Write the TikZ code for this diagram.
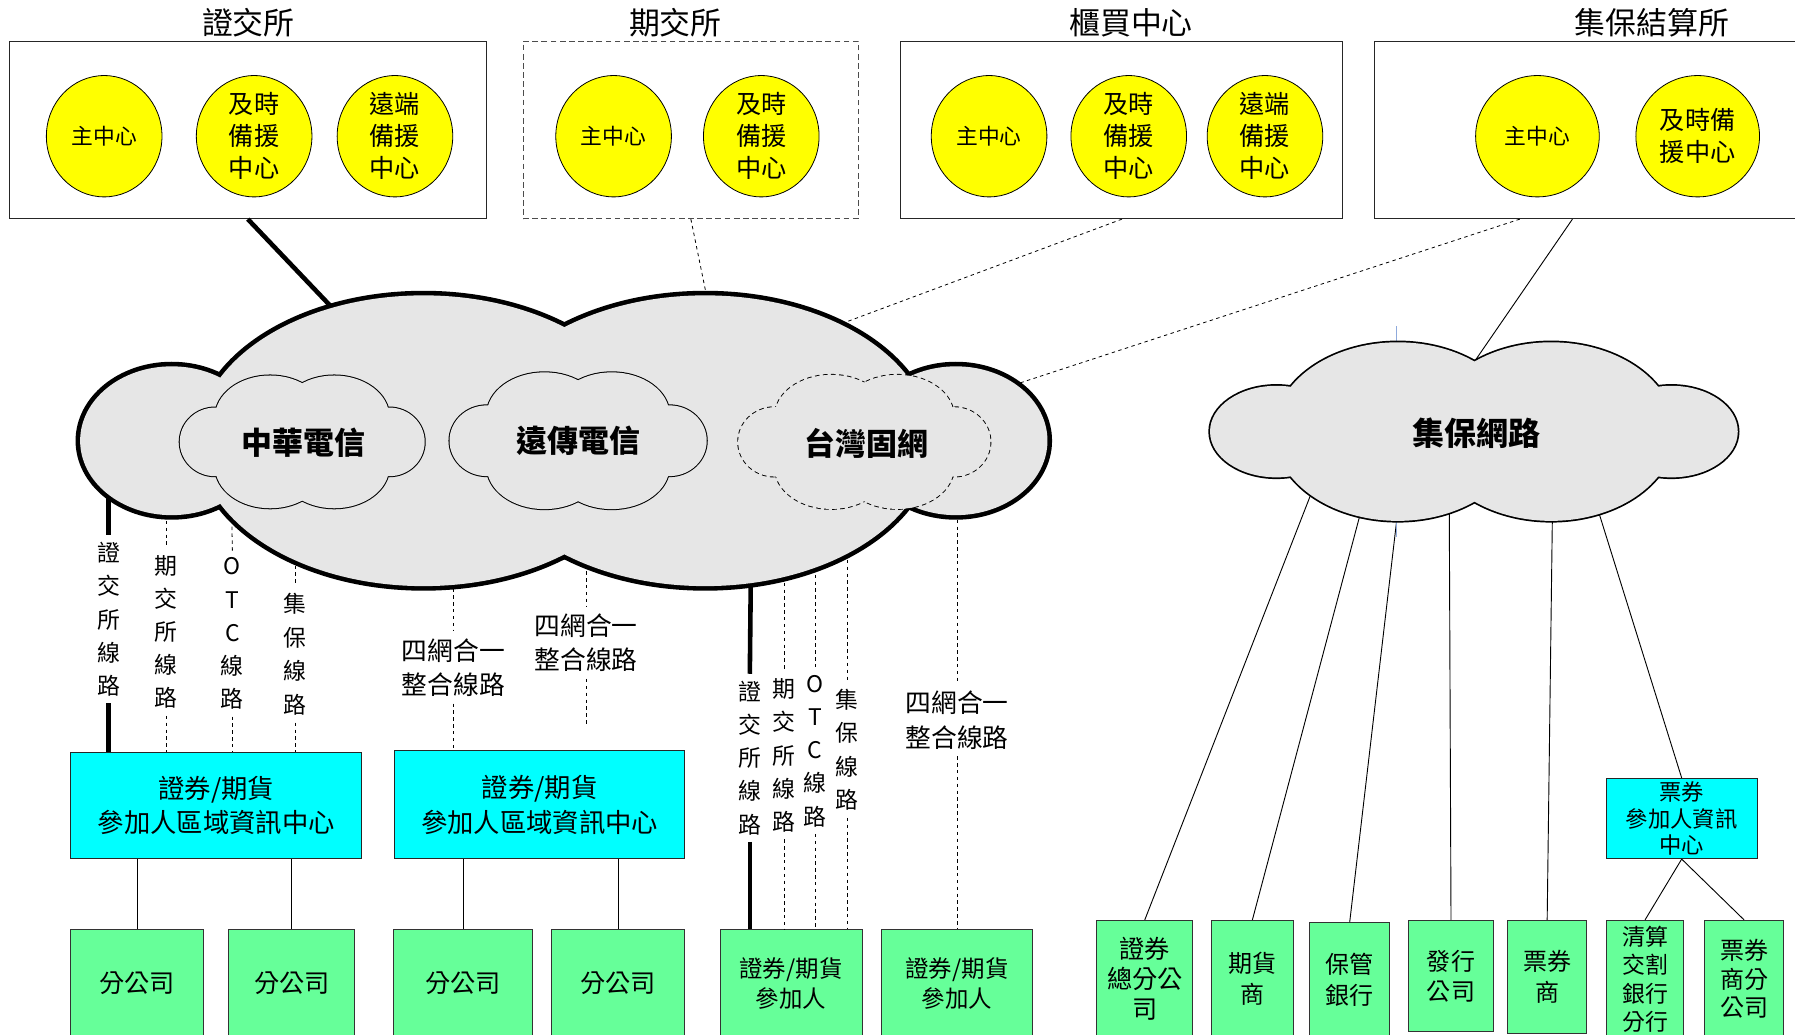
\documentclass[tikz,border=0pt]{standalone}
\usepackage{fontspec}
\setmainfont{Noto Sans CJK TC}
\usetikzlibrary{shapes.geometric,calc}
\definecolor{cgray}{HTML}{E6E6E6}
\definecolor{ccyan}{HTML}{00FFFF}
\definecolor{cgreen}{HTML}{66FF99}
\definecolor{cyel}{HTML}{FFFF00}
\definecolor{cblue}{HTML}{8FAADC}
\newcommand{\minicloud}[2]{%
  \begin{scope}[#1]
    \foreach \cx/\cy/\rx/\ry in {-76/0/31/30,76/0/31/30,-28/-22/48/36,28/-22/48/36,-28/22/48/36,28/22/48/36}
      {\draw[#2,fill=cgray] (\cx,\cy) ellipse [x radius=\rx, y radius=\ry];}
    \foreach \cx/\cy/\rx/\ry in {-76/0/31/30,76/0/31/30,-28/-22/48/36,28/-22/48/36,-28/22/48/36,28/22/48/36}
      {\fill[cgray] (\cx,\cy) ellipse [x radius=\rx, y radius=\ry];}
    \fill[cgray] (-70,-15) rectangle (70,15);
  \end{scope}}
\begin{document}
\begin{tikzpicture}[x=1pt,y=-1pt,
  ttl/.style={font=\fontsize{27}{30}\selectfont, inner sep=0pt},
  topbox/.style={draw=black!85, line width=0.9pt, minimum height=155pt, inner sep=0pt},
  yel/.style={ellipse, draw=black, fill=cyel, line width=0.7pt, minimum width=101pt, minimum height=106pt, align=center},
  ysmall/.style={font=\fontsize{19}{22}\selectfont, inner sep=0pt},
  ybig/.style={font=\fontsize{22}{28}\selectfont, inner sep=-9pt},
  cloudlab/.style={font=\bfseries\fontsize{27}{30}\selectfont, inner sep=0pt},
  cyanbox/.style={draw=black!85, fill=ccyan, line width=0.9pt, align=center, inner sep=0pt},
  greenbox/.style={draw=black!80, fill=cgreen, line width=0.9pt, align=center, inner sep=0pt},
  vlab/.style={align=center, inner sep=6pt, font=\fontsize{20}{29}\selectfont},
  flab/.style={align=center, inner sep=6pt, font=\fontsize{22.5}{30}\selectfont},
  dline/.style={dash pattern=on 3pt off 3pt, line width=0.7pt},
  thickline/.style={line width=4pt},
  conn/.style={line width=0.8pt}
]
\useasboundingbox (0,0) rectangle (1568,904);
\fill[white] (0,0) rectangle (1568,904);
\clip (0,0) rectangle (1568,904);

% ---------- top titles and boxes ----------
\node[ttl] (t1) at (217,20) {證交所};
\node[ttl] (t2) at (590,20) {期交所};
\node[ttl] (t3) at (988,20) {櫃買中心};
\node[ttl] (t4) at (1443,20) {集保結算所};

\node[topbox, minimum width=417pt] (tse) at (216.5,113.5) {};
\node[topbox, draw=black!70, dash pattern=on 5pt off 3pt, minimum width=293pt] (tfe) at (603.5,113.5) {};
\node[topbox, minimum width=386pt] (otc) at (980,113.5) {};
\node[topbox, minimum width=380pt] (tdcc) at (1391,113.5) {};

\node[yel, ysmall] (e11) at (91,119) {主中心};
\node[yel, ybig] (e12) at (222,119) {及時\\備援\\中心};
\node[yel, ybig] (e13) at (345,119) {遠端\\備援\\中心};
\node[yel, ysmall] (e21) at (536,119) {主中心};
\node[yel, ybig] (e22) at (665,119) {及時\\備援\\中心};
\node[yel, ysmall] (e31) at (864,119) {主中心};
\node[yel, ybig] (e32) at (986,119) {及時\\備援\\中心};
\node[yel, ybig] (e33) at (1105,119) {遠端\\備援\\中心};
\node[yel, ysmall, minimum width=108pt] (e41) at (1343,119) {主中心};
\node[yel, ybig, minimum width=108pt] (e42) at (1483,119) {及時備\\援中心};

% ---------- lower boxes ----------
\node[cyanbox, minimum width=254pt, minimum height=93pt, font=\fontsize{23}{30}\selectfont] (rc1) at (189,703.5) {證券/期貨\\參加人區域資訊中心};
\node[cyanbox, minimum width=253pt, minimum height=94pt, font=\fontsize{23}{30}\selectfont] (rc2) at (471.5,703) {證券/期貨\\參加人區域資訊中心};
\node[cyanbox, minimum width=132pt, minimum height=70pt, font=\fontsize{19.5}{23.5}\selectfont] (bc) at (1469,715) {票券\\參加人資訊\\中心};

\node[greenbox, minimum width=116pt, minimum height=94pt, font=\fontsize{22}{26}\selectfont] (g1) at (120,859) {分公司};
\node[greenbox, minimum width=110pt, minimum height=94pt, font=\fontsize{22}{26}\selectfont] (g2) at (255,859) {分公司};
\node[greenbox, minimum width=121pt, minimum height=94pt, font=\fontsize{22}{26}\selectfont] (g3) at (404.5,859) {分公司};
\node[greenbox, minimum width=116pt, minimum height=94pt, font=\fontsize{22}{26}\selectfont] (g4) at (540,859) {分公司};
\node[greenbox, minimum width=124pt, minimum height=94pt, font=\fontsize{20.5}{26}\selectfont] (g5) at (691,859) {證券/期貨\\參加人};
\node[greenbox, minimum width=132pt, minimum height=94pt, font=\fontsize{20.5}{26}\selectfont] (g6) at (836,859) {證券/期貨\\參加人};

\node[greenbox, minimum width=84pt, minimum height=102pt, font=\fontsize{22}{26}\selectfont] (r1) at (1000,855) {證券\\總分公\\司};
\node[greenbox, minimum width=72pt, minimum height=102pt, font=\fontsize{21}{27}\selectfont] (r2) at (1094,855) {期貨\\商};
\node[greenbox, minimum width=70pt, minimum height=99pt, font=\fontsize{21}{27}\selectfont] (r3) at (1179,855.5) {保管\\銀行};
\node[greenbox, minimum width=75pt, minimum height=97pt, font=\fontsize{21}{26}\selectfont] (r4) at (1267.5,852.5) {發行\\公司};
\node[greenbox, minimum width=69pt, minimum height=99pt, font=\fontsize{21}{27}\selectfont] (r5) at (1351.5,853.5) {票券\\商};
\node[greenbox, minimum width=68pt, minimum height=103pt, font=\fontsize{20}{25}\selectfont] (r6) at (1437,855.5) {清算\\交割\\銀行\\分行};
\node[greenbox, minimum width=69pt, minimum height=102pt, font=\fontsize{21}{25}\selectfont] (r7) at (1523.5,855) {票券\\商分\\公司};

% ---------- line labels ----------
\node[vlab] (L1) at (95,541) {證\\交\\所\\線\\路};
\node[vlab] (L2) at (145,552) {期\\交\\所\\線\\路};
\node[vlab] (L3) at (203,553.5) {O\\T\\C\\線\\路};
\node[vlab, font=\fontsize{20}{29.6}\selectfont] (L4) at (258,571.5) {集\\保\\線\\路};
\node[flab] (M1) at (396,583) {四網合一\\整合線路};
\node[flab] (M2) at (512,561.5) {四網合一\\整合線路};
\node[vlab] (R1) at (655,662) {證\\交\\所\\線\\路};
\node[vlab] (R2) at (685,660) {期\\交\\所\\線\\路};
\node[vlab] (R3) at (712,656) {O\\T\\C\\線\\路};
\node[vlab, font=\fontsize{20}{29.3}\selectfont] (R4) at (740,655) {集\\保\\線\\路};
\node[flab] (R5) at (836,629) {四網合一\\整合線路};

% ---------- coordinates inside clouds ----------
\coordinate (cL1) at (95,415);
\coordinate (cL2) at (145,425);
\coordinate (cL3) at (202,430);
\coordinate (cL4) at (258,470);
\coordinate (cM1) at (396,490);
\coordinate (cM2) at (512,475);
\coordinate (cR1) at (656,490);
\coordinate (cR2) at (685,485);
\coordinate (cR3) at (712,478);
\coordinate (cR4) at (740,465);
\coordinate (cR5) at (836,430);
\coordinate (m2end) at (512,632);
\coordinate (cT1) at (297,276);
\coordinate (cT2) at (620,272);
\coordinate (cT3) at (713,291);
\coordinate (cT4) at (862,344);
\coordinate (cT5) at (1281,326);
\coordinate (j1) at (1145,432);
\coordinate (j2) at (1189,446);
\coordinate (j3) at (1220,455);
\coordinate (j4) at (1266,449);
\coordinate (j5) at (1356,455);
\coordinate (j6) at (1397,449);
\coordinate (bl1) at (1220,285);
\coordinate (bl2) at (1220,469);

% ---------- connectors ----------
\draw[thickline] (tse.south) -- (cT1);
\draw[dline] (tfe.south) -- (cT2);
\draw[dline] (otc.south) -- (cT3);
\draw[dline] ($(tdcc.south west)+(127,0)$) -- (cT4);
\draw[conn] ($(tdcc.south west)+(173,0)$) -- (cT5);

\draw[thickline] (cL1) -- (L1.north);
\draw[thickline] (L1.south) -- (L1.south |- rc1.north);
\draw[dline] (cL2) -- (L2.north);
\draw[dline] (L2.south) -- (L2.south |- rc1.north);
\draw[dline] (cL3) -- (L3.north);
\draw[dline] (L3.south) -- (L3.south |- rc1.north);
\draw[dline] (cL4) -- (L4.north);
\draw[dline] (L4.south) -- (L4.south |- rc1.north);
\draw[dline] (cM1) -- (M1.north);
\draw[dline] (M1.south) -- (M1.south |- rc2.north);
\draw[dline] (cM2) -- (M2.north);
\draw[dline] (M2.south) -- (m2end);
\draw[thickline] (cR1) -- (R1.north);
\draw[thickline] (R1.south) -- (R1.south |- g5.north);
\draw[dline] (cR2) -- (R2.north);
\draw[dline] (R2.south) -- (R2.south |- g5.north);
\draw[dline] (cR3) -- (R3.north);
\draw[dline] (R3.south) -- (R3.south |- g5.north);
\draw[dline] (cR4) -- (R4.north);
\draw[dline] (R4.south) -- (R4.south |- g5.north);
\draw[dline] (cR5) -- (R5.north);
\draw[dline] (R5.south) -- (R5.south |- g6.north);

\draw[conn] (g1.north) -- (g1.north |- rc1.south);
\draw[conn] (g2.north) -- (g2.north |- rc1.south);
\draw[conn] (g3.north) -- (g3.north |- rc2.south);
\draw[conn] (g4.north) -- (g4.north |- rc2.south);

\draw[conn, shorten <=-15pt] (j1) -- (r1.north);
\draw[conn, shorten <=-15pt] (j2) -- (r2.north);
\draw[conn, shorten <=-15pt] (j3) -- (r3.north);
\draw[conn, shorten <=-15pt] (j4) -- (r4.north);
\draw[conn, shorten <=-15pt] (j5) -- (r5.north);
\draw[conn, shorten <=-15pt] (j6) -- (bc.north);
\draw[conn] (bc.south) -- (r6.north);
\draw[conn] (bc.south) -- (r7.north);
\draw[cblue, line width=1pt] (bl1) -- (bl2);

% ---------- big cloud ----------
\foreach \cx/\cy/\rx/\ry in {150/385/80/65,370/385/197/127,616/385/197/127,835/385/80/65}
  {\draw[line width=8pt, fill=cgray] (\cx,\cy) ellipse [x radius=\rx, y radius=\ry];}
\foreach \cx/\cy/\rx/\ry in {150/385/80/65,370/385/197/127,616/385/197/127,835/385/80/65}
  {\fill[cgray] (\cx,\cy) ellipse [x radius=\rx, y radius=\ry];}
\fill[cgray] (200,330) rectangle (790,440);

\minicloud{shift={(264,386)}}{line width=1.8pt}
\minicloud{shift={(505,385)}, xscale=1.05, yscale=1.03}{line width=1.8pt}
\minicloud{shift={(755,386)}, xscale=1.03, yscale=1.01}{line width=1.6pt, dash pattern=on 4pt off 3pt}

% ---------- 集保網路 cloud ----------
\foreach \cx/\cy/\rx/\ry in {1115/377/58/40,1221/377/108/78,1355/377/108/78,1460/377/58/40}
  {\draw[line width=3pt, fill=cgray] (\cx,\cy) ellipse [x radius=\rx, y radius=\ry];}
\foreach \cx/\cy/\rx/\ry in {1115/377/58/40,1221/377/108/78,1355/377/108/78,1460/377/58/40}
  {\fill[cgray] (\cx,\cy) ellipse [x radius=\rx, y radius=\ry];}

% ---------- cloud labels ----------
\node[cloudlab] (cht) at (265,387) {中華電信};
\node[cloudlab] (fet) at (505,385) {遠傳電信};
\node[cloudlab] (tfn) at (757,387) {台灣固網};
\node[cloudlab, font=\bfseries\fontsize{28}{30}\selectfont] (jbnet) at (1290,378) {集保網路};
\end{tikzpicture}
\end{document}
